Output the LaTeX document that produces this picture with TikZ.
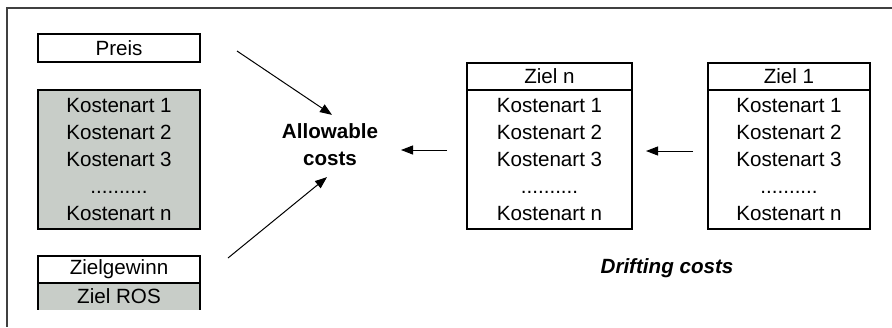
\documentclass[tikz,border=0pt]{standalone}
\usepackage{fontspec}
\setmainfont{Liberation Sans}
\usetikzlibrary{arrows.meta}
\definecolor{kostgrau}{RGB}{200,205,200}
\begin{document}
\begin{tikzpicture}[x=0.5pt,y=-0.5pt,
    every node/.style={font=\fontsize{10.3}{13.5}\selectfont},
    feld/.style={draw,line width=0.8pt,outer sep=0pt,inner sep=0pt,minimum width=81pt,minimum height=14pt},
    liste/.style={feld,align=center,minimum height=69.5pt},
    pfeil/.style={-{Triangle[length=6pt,width=4.5pt]},line width=0.5pt}]
        \useasboundingbox (0,0) rectangle (892,327);
        \draw[line width=0.7pt,black!75] (892,8) -- (7,8) -- (7,327);

        \node[feld] (preis) at (119,48) {Preis};
        \node[liste,fill=kostgrau] (kosten) at (119,159.5) {Kostenart 1\\Kostenart 2\\Kostenart 3\\..........\\Kostenart n};
        \node[minimum width=81pt,minimum height=13.5pt,inner sep=0pt,outer sep=0pt,fill=kostgrau] (ros) at (119,296.5) {Ziel ROS};
        \node[feld,minimum height=13.5pt,anchor=south] (gewinn) at (ros.north) {Zielgewinn};
        \draw[line width=0.8pt] (ros.north west) -- (ros.south west) (ros.north east) -- (ros.south east);

        \node[font=\fontsize{10.3}{13.5}\selectfont\bfseries,align=center] (allow) at (330,145) {Allowable\\costs};

        \node[feld,minimum width=82.5pt,minimum height=13.5pt] (kopfn) at (549.5,76.5) {Ziel n};
        \node[liste,minimum width=82.5pt,anchor=north] (zieln) at (kopfn.south) {Kostenart 1\\Kostenart 2\\Kostenart 3\\..........\\Kostenart n};
        \node[feld,minimum height=13.5pt] (kopf1) at (789,76.5) {Ziel 1};
        \node[liste,anchor=north] (ziel1) at (kopf1.south) {Kostenart 1\\Kostenart 2\\Kostenart 3\\..........\\Kostenart n};

        \node[font=\fontsize{10.3}{13.5}\selectfont\bfseries\itshape] (drift) at (667,268) {Drifting costs};

        \coordinate (preisend) at (237,51);
        \coordinate (gewinnend) at (228,258);
        \coordinate (zielnend) at (447,150);
        \coordinate (ziel1end) at (693,151);

        \draw[pfeil] (preisend) -- ([shift={(1pt,1pt)}]allow.north);
        \draw[pfeil] (gewinnend) -- ([shift={(-1.5pt,-2pt)}]allow.south);
        \draw[pfeil] (zielnend) -- ([xshift=-23pt]zielnend);
        \draw[pfeil] (ziel1end) -- ([xshift=-23.5pt]ziel1end);
\end{tikzpicture}
\end{document}
